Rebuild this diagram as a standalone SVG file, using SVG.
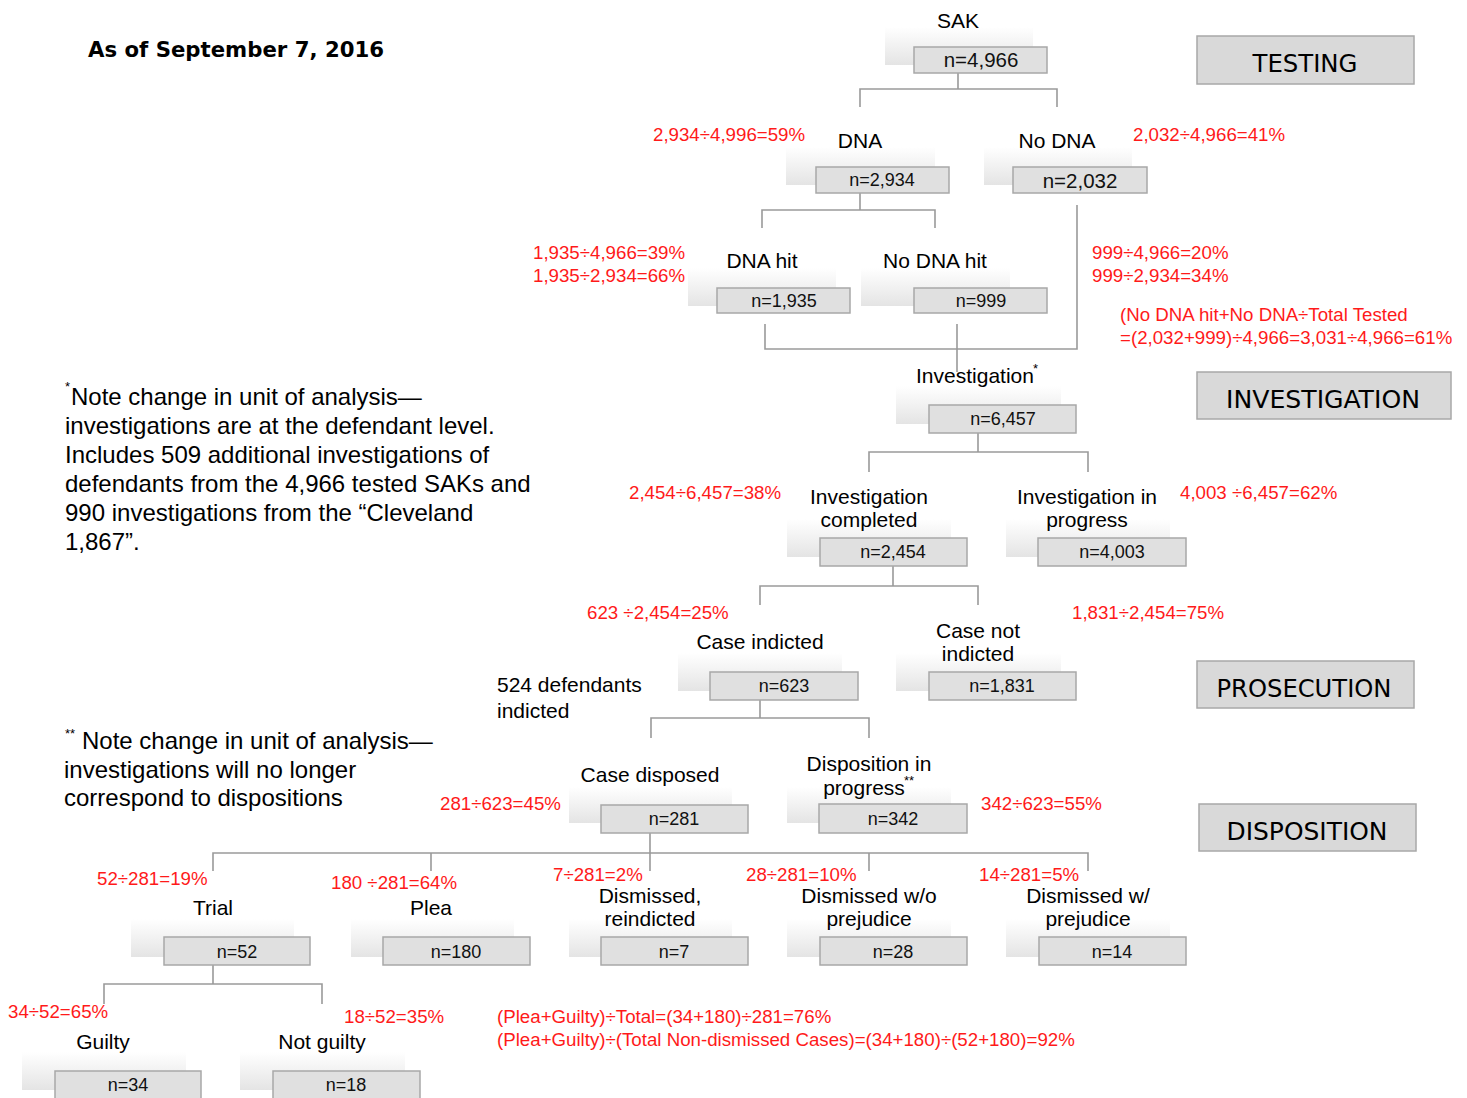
<svg xmlns="http://www.w3.org/2000/svg" width="1467" height="1098" viewBox="0 0 1467 1098">
<defs>
<linearGradient id="fade" x1="0" y1="0" x2="0" y2="1">
<stop offset="0" stop-color="#ffffff"/>
<stop offset="1" stop-color="#e4e4e4"/>
</linearGradient>
<style>
.g{fill:url(#fade);}
.b{fill:#e0e0e0;stroke:#a8a8a8;stroke-width:1.5;}
.lb{font-family:"Liberation Sans",Arial,sans-serif;font-size:21px;fill:#000;text-anchor:middle;}
.n{font-family:"Liberation Sans",Arial,sans-serif;font-size:18px;fill:#111;text-anchor:middle;}
.nb{font-size:20.5px;}
.r{font-family:"Liberation Sans",Arial,sans-serif;font-size:18.7px;fill:#ff1a1a;}
.note{font-family:"Liberation Sans",Arial,sans-serif;font-size:24px;fill:#000;}
.sup{font-family:"Liberation Sans",Arial,sans-serif;font-size:13px;fill:#000;}
.stage rect{fill:#d9d9d9;stroke:#a8a8a8;stroke-width:1.5;}
.stage text{font-family:"DejaVu Sans Condensed","DejaVu Sans",Verdana,sans-serif;font-size:25px;fill:#000;text-anchor:middle;}
.conn{fill:none;stroke:#9a9a9a;stroke-width:1.6;}
</style>
</defs>
<rect width="1467" height="1098" fill="#ffffff"/>

<text x="88" y="57" font-family="DejaVu Sans Condensed, DejaVu Sans, sans-serif" font-weight="bold" font-size="22" textLength="296" lengthAdjust="spacingAndGlyphs">As of September 7, 2016</text>

<g id="connectors" class="conn">
<path d="M958,73 V89 M860,107 V89 H1057 V107"/>
<path d="M860,193 V210 M762,228 V210 H935 V228"/>
<path d="M1077,205 V349 H765 V324 M957,324 V372"/>
<path d="M978,433 V452 M869,472 V452 H1088 V472"/>
<path d="M893,566 V586 M760,605 V586 H978 V605"/>
<path d="M760,700 V718 M651,738 V718 H869 V738"/>
<path d="M650,833 V871 M213,871 V853 H1088 V871 M431,853 V871 M869,853 V871"/>
<path d="M213,965 V984 M104,1004 V984 H322 V1004"/>
</g>

<g id="node-sak">
<rect class="g" x="885" y="27" width="148" height="38"/>
<text class="lb" x="958" y="28">SAK</text>
<rect class="b" x="914" y="47" width="133" height="26"/>
<text class="n nb" x="981" y="67">n=4,966</text>
</g>
<g id="node-dna">
<rect class="g" x="786" y="147" width="149" height="38"/>
<text class="lb" x="860" y="148">DNA</text>
<rect class="b" x="816" y="167" width="133" height="26"/>
<text class="n" x="882" y="186">n=2,934</text>
</g>
<g id="node-nodna">
<rect class="g" x="984" y="147" width="148" height="38"/>
<text class="lb" x="1057" y="148">No DNA</text>
<rect class="b" x="1013" y="167" width="134" height="26"/>
<text class="n nb" x="1080" y="188">n=2,032</text>
</g>
<g id="node-dnahit">
<rect class="g" x="688" y="268" width="148" height="38"/>
<text class="lb" x="762" y="268">DNA hit</text>
<rect class="b" x="717" y="288" width="133" height="25"/>
<text class="n" x="784" y="307">n=1,935</text>
</g>
<g id="node-nodnahit">
<rect class="g" x="861" y="268" width="149" height="38"/>
<text class="lb" x="935" y="268">No DNA hit</text>
<rect class="b" x="914" y="288" width="133" height="25"/>
<text class="n" x="981" y="307">n=999</text>
</g>
<g id="node-investigation">
<rect class="g" x="896" y="386" width="165" height="38"/>
<text class="lb" x="975" y="383">Investigation</text>
<text class="sup" x="1033" y="373">*</text>
<rect class="b" x="929" y="405" width="147" height="28"/>
<text class="n" x="1003" y="425">n=6,457</text>
</g>
<g id="node-invcompleted">
<rect class="g" x="787" y="519" width="164" height="38"/>
<text class="lb" x="869" y="504">Investigation</text>
<text class="lb" x="869" y="527">completed</text>
<rect class="b" x="820" y="538" width="147" height="28"/>
<text class="n" x="893" y="558">n=2,454</text>
</g>
<g id="node-invprogress">
<rect class="g" x="1006" y="519" width="164" height="38"/>
<text class="lb" x="1087" y="504">Investigation  in</text>
<text class="lb" x="1087" y="527">progress</text>
<rect class="b" x="1038" y="538" width="148" height="28"/>
<text class="n" x="1112" y="558">n=4,003</text>
</g>
<g id="node-indicted">
<rect class="g" x="678" y="653" width="164" height="38"/>
<text class="lb" x="760" y="649">Case indicted</text>
<rect class="b" x="710" y="672" width="148" height="28"/>
<text class="n" x="784" y="692">n=623</text>
</g>
<g id="node-notindicted">
<rect class="g" x="896" y="653" width="165" height="38"/>
<text class="lb" x="978" y="638">Case not</text>
<text class="lb" x="978" y="661">indicted</text>
<rect class="b" x="929" y="672" width="147" height="28"/>
<text class="n" x="1002" y="692">n=1,831</text>
</g>
<g id="node-disposed">
<rect class="g" x="569" y="787" width="163" height="36"/>
<text class="lb" x="650" y="782">Case disposed</text>
<rect class="b" x="601" y="805" width="147" height="28"/>
<text class="n" x="674" y="825">n=281</text>
</g>
<g id="node-dispprogress">
<rect class="g" x="787" y="787" width="164" height="36"/>
<text class="lb" x="869" y="771">Disposition in</text>
<text class="lb" x="864" y="795">progress</text>
<text class="sup" x="904" y="785">**</text>
<rect class="b" x="819" y="804" width="148" height="29"/>
<text class="n" x="893" y="825">n=342</text>
</g>
<g id="node-trial">
<rect class="g" x="131" y="919" width="163" height="38"/>
<text class="lb" x="213" y="915">Trial</text>
<rect class="b" x="164" y="937" width="146" height="28"/>
<text class="n" x="237" y="958">n=52</text>
</g>
<g id="node-plea">
<rect class="g" x="351" y="919" width="163" height="38"/>
<text class="lb" x="431" y="915">Plea</text>
<rect class="b" x="383" y="937" width="147" height="28"/>
<text class="n" x="456" y="958">n=180</text>
</g>
<g id="node-reindicted">
<rect class="g" x="569" y="919" width="163" height="38"/>
<text class="lb" x="650" y="903">Dismissed,</text>
<text class="lb" x="650" y="926">reindicted</text>
<rect class="b" x="601" y="937" width="147" height="28"/>
<text class="n" x="674" y="958">n=7</text>
</g>
<g id="node-dismissedwo">
<rect class="g" x="787" y="919" width="164" height="38"/>
<text class="lb" x="869" y="903">Dismissed w/o</text>
<text class="lb" x="869" y="926">prejudice</text>
<rect class="b" x="820" y="937" width="147" height="28"/>
<text class="n" x="893" y="958">n=28</text>
</g>
<g id="node-dismissedw">
<rect class="g" x="1006" y="919" width="164" height="38"/>
<text class="lb" x="1088" y="903">Dismissed w/</text>
<text class="lb" x="1088" y="926">prejudice</text>
<rect class="b" x="1039" y="937" width="147" height="28"/>
<text class="n" x="1112" y="958">n=14</text>
</g>
<g id="node-guilty">
<rect class="g" x="22" y="1052" width="164" height="38"/>
<text class="lb" x="103" y="1049">Guilty</text>
<rect class="b" x="55" y="1071" width="146" height="29"/>
<text class="n" x="128" y="1091">n=34</text>
</g>
<g id="node-notguilty">
<rect class="g" x="240" y="1052" width="165" height="38"/>
<text class="lb" x="322" y="1049">Not guilty</text>
<rect class="b" x="273" y="1071" width="147" height="29"/>
<text class="n" x="346" y="1091">n=18</text>
</g>

<g id="stage-testing" class="stage">
<rect x="1197" y="36" width="217" height="48"/>
<text x="1305" y="72" textLength="105" lengthAdjust="spacingAndGlyphs">TESTING</text>
</g>
<g id="stage-investigation" class="stage">
<rect x="1197" y="372" width="254" height="47"/>
<text x="1323" y="408" textLength="194" lengthAdjust="spacingAndGlyphs">INVESTIGATION</text>
</g>
<g id="stage-prosecution" class="stage">
<rect x="1197" y="661" width="217" height="47"/>
<text x="1304" y="697" textLength="175" lengthAdjust="spacingAndGlyphs">PROSECUTION</text>
</g>
<g id="stage-disposition" class="stage">
<rect x="1199" y="804" width="217" height="47"/>
<text x="1307" y="840" textLength="161" lengthAdjust="spacingAndGlyphs">DISPOSITION</text>
</g>

<g id="percentages" class="r">
<text x="653" y="141">2,934÷4,996=59%</text>
<text x="1133" y="141">2,032÷4,966=41%</text>
<text x="533" y="259">1,935÷4,966=39%</text>
<text x="533" y="282">1,935÷2,934=66%</text>
<text x="1092" y="259">999÷4,966=20%</text>
<text x="1092" y="282">999÷2,934=34%</text>
<text x="1120" y="321">(No DNA hit+No DNA÷Total Tested</text>
<text x="1120" y="344">=(2,032+999)÷4,966=3,031÷4,966=61%</text>
<text x="629" y="499">2,454÷6,457=38%</text>
<text x="1180" y="499">4,003 ÷6,457=62%</text>
<text x="587" y="619">623 ÷2,454=25%</text>
<text x="1072" y="619">1,831÷2,454=75%</text>
<text x="440" y="810">281÷623=45%</text>
<text x="981" y="810">342÷623=55%</text>
<text x="97" y="885">52÷281=19%</text>
<text x="331" y="889">180 ÷281=64%</text>
<text x="553" y="881">7÷281=2%</text>
<text x="746" y="881">28÷281=10%</text>
<text x="979" y="881">14÷281=5%</text>
<text x="8" y="1018">34÷52=65%</text>
<text x="344" y="1023">18÷52=35%</text>
<text x="497" y="1023">(Plea+Guilty)÷Total=(34+180)÷281=76%</text>
<text x="497" y="1046">(Plea+Guilty)÷(Total Non-dismissed Cases)=(34+180)÷(52+180)=92%</text>
</g>

<g id="note1">
<text class="sup" x="65" y="391">*</text>
<text class="note" x="71" y="405">Note change in unit of analysis—</text>
<text class="note" x="65" y="434">investigations are at the defendant level.</text>
<text class="note" x="65" y="463">Includes 509 additional investigations of</text>
<text class="note" x="65" y="492">defendants from the 4,966 tested SAKs and</text>
<text class="note" x="65" y="521">990 investigations from the “Cleveland</text>
<text class="note" x="65" y="550">1,867”.</text>
</g>
<g id="note2">
<text class="sup" x="65" y="738">**</text>
<text class="note" x="82" y="749">Note change in unit of analysis—</text>
<text class="note" x="64" y="778">investigations will no longer</text>
<text class="note" x="64" y="806">correspond to dispositions</text>
</g>
<g id="note3">
<text class="lb" x="497" y="692" style="text-anchor:start">524 defendants</text>
<text class="lb" x="497" y="718" style="text-anchor:start">indicted</text>
</g>
</svg>
